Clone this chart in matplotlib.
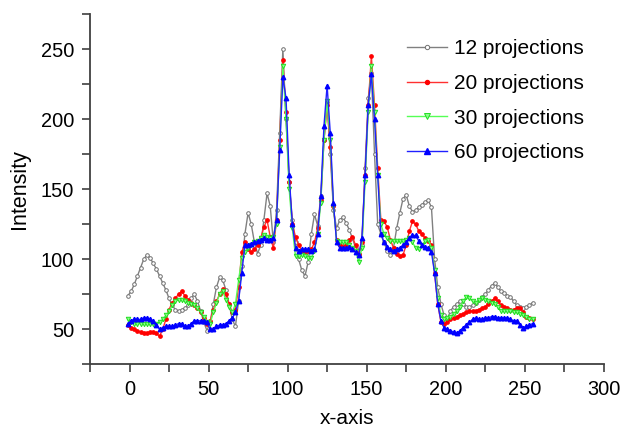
import matplotlib
matplotlib.use("Agg")
import matplotlib.pyplot as plt
from matplotlib.ticker import MultipleLocator

plt.rcParams['font.family'] = ['Liberation Sans', 'DejaVu Sans']

# x positions of the profile samples
x_vals = list(range(-1, 256, 2))

proj_12 = [74, 77, 82, 88, 94, 100, 103, 101, 97, 93,
           88, 83, 78, 72, 67, 64, 63, 64, 65, 67,
           72, 75, 70, 63, 55, 49, 55, 68, 80, 87,
           85, 78, 68, 57, 52, 70, 95, 118, 133, 125,
           112, 104, 110, 128, 147, 138, 112, 135, 190, 250,
           200, 155, 128, 112, 100, 92, 88, 98, 118, 132,
           124, 145, 185, 212, 175, 135, 122, 128, 130, 126,
           121, 115, 108, 104, 110, 165, 215, 233, 175, 125,
           118, 112, 106, 103, 108, 122, 133, 143, 146, 138,
           134, 135, 137, 139, 141, 142, 137, 100, 80, 68,
           60, 57, 63, 66, 68, 70, 68, 66, 66, 67,
           69, 71, 73, 75, 78, 81, 83, 80, 77, 76,
           74, 73, 70, 67, 66, 65, 66, 67, 69]

proj_20 = [53, 51, 50, 49, 48, 47, 47, 48, 48, 47,
           45, 50, 57, 64, 69, 72, 75, 77, 74, 71,
           69, 67, 65, 62, 58, 54, 56, 64, 70, 75,
           79, 75, 68, 62, 64, 80, 105, 112, 107, 105,
           107, 110, 115, 123, 128, 116, 108, 128, 185, 242,
           205, 155, 125, 116, 110, 106, 105, 106, 107, 112,
           122, 142, 185, 210, 180, 138, 114, 110, 109, 110,
           114, 116, 110, 104, 112, 160, 210, 245, 210, 165,
           128, 127, 123, 114, 108, 104, 102, 103, 110, 120,
           127, 125, 120, 118, 115, 113, 110, 90, 68, 55,
           54, 55, 57, 58, 59, 60, 61, 62, 63, 63,
           63, 64, 65, 66, 68, 70, 72, 70, 67, 66,
           65, 64, 64, 65, 65, 62, 59, 58, 57]

proj_30 = [57, 55, 54, 54, 54, 54, 54, 54, 54, 54,
           55, 57, 60, 63, 67, 70, 71, 71, 70, 69,
           68, 67, 65, 62, 59, 55, 54, 62, 69, 75,
           77, 71, 66, 62, 68, 85, 101, 105, 108, 110,
           112, 113, 115, 117, 116, 115, 116, 125, 180, 238,
           200, 150, 122, 102, 102, 103, 102, 101, 101, 106,
           118, 140, 185, 213, 185, 138, 113, 112, 112, 112,
           110, 108, 106, 98, 108, 155, 205, 238, 205, 160,
           125, 118, 115, 113, 113, 113, 113, 113, 114, 115,
           112, 108, 107, 110, 113, 114, 108, 92, 72, 60,
           57, 58, 59, 61, 63, 66, 70, 73, 72, 70,
           69, 71, 72, 71, 70, 69, 68, 66, 63, 63,
           63, 63, 62, 62, 61, 60, 59, 57, 57]

proj_60 = [54, 56, 57, 57, 57, 58, 58, 57, 56, 53,
           50, 51, 52, 52, 52, 53, 54, 54, 52, 52,
           54, 56, 56, 56, 56, 55, 50, 50, 52, 53,
           53, 54, 56, 58, 62, 70, 90, 110, 110, 111,
           112, 113, 114, 115, 114, 114, 115, 128, 178, 230,
           215, 160, 125, 108, 106, 107, 107, 107, 106, 107,
           118, 145, 195, 224, 190, 140, 112, 108, 108, 108,
           109, 107, 105, 103, 115, 160, 210, 232, 200, 160,
           118, 112, 109, 107, 106, 107, 108, 110, 112, 115,
           117, 117, 113, 110, 109, 108, 105, 90, 68, 56,
           51, 50, 49, 48, 47, 49, 51, 53, 55, 57,
           58, 57, 57, 58, 58, 59, 59, 58, 58, 58,
           58, 57, 56, 56, 53, 51, 52, 53, 54]

fig = plt.figure(figsize=(6.25, 4.28), dpi=100)
ax = fig.add_axes([0.144, 0.149, 0.822, 0.818])

ax.plot(x_vals, proj_12, color='#808080', lw=1, marker='o', ms=2.6,
        mfc='white', mec='#707070', mew=0.7, label='12 projections')
ax.plot(x_vals, proj_20, color='#ff3030', lw=1, marker='o', ms=2.4,
        mfc='#ff0000', mec='#ff0000', label='20 projections')
ax.plot(x_vals, proj_30, color='#55ff55', lw=1, marker='v', ms=3.2,
        mfc='#88ff88', mec='#22dd22', mew=0.7, label='30 projections')
ax.plot(x_vals, proj_60, color='#2020ff', lw=1, marker='^', ms=3.2,
        mfc='#0000ff', mec='#0000ff', label='60 projections')

ax.set_xlim(-25, 300)
ax.set_ylim(25, 275)
ax.xaxis.set_major_locator(MultipleLocator(50))
ax.xaxis.set_minor_locator(MultipleLocator(25))
ax.yaxis.set_major_locator(MultipleLocator(50))
ax.yaxis.set_minor_locator(MultipleLocator(25))

for side in ['top', 'right']:
    ax.spines[side].set_visible(False)
for side in ['left', 'bottom']:
    ax.spines[side].set_color('#404040')
    ax.spines[side].set_linewidth(1.3)

ax.tick_params(which='both', direction='out', length=5.5, width=1.2,
               color='#404040', labelsize=14.4, pad=6)

ax.set_xlabel('x-axis', fontsize=15, labelpad=7)
ax.set_ylabel('Intensity', fontsize=15.5, labelpad=8)

ax.legend(loc='upper left', bbox_to_anchor=(407 / 625, 1 - 39 / 428),
          bbox_transform=fig.transFigure, frameon=False, borderpad=0,
          borderaxespad=0, fontsize=15, handlelength=1.9, labelspacing=0.76,
          handletextpad=0.35, markerscale=1.2)

fig.savefig('out.png', dpi=100)
